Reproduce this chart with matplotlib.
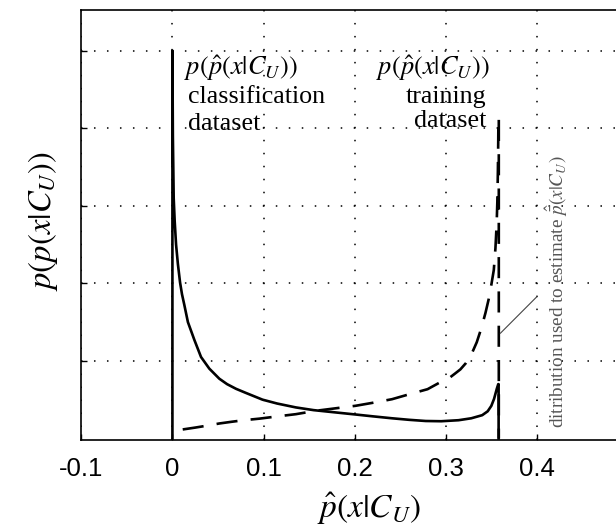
import matplotlib
matplotlib.use("Agg")
import matplotlib.pyplot as plt

plt.rcParams['mathtext.fontset'] = 'stix'

# classification dataset density (solid)
cls_x = [0.0, 0.0, 0.0005, 0.0014, 0.0025, 0.004, 0.006, 0.0084, 0.0105, 0.0131,
         0.017, 0.0241, 0.0314, 0.0405, 0.0515, 0.060, 0.0698, 0.080, 0.0989, 0.115,
         0.1355, 0.155, 0.172, 0.20, 0.22, 0.241, 0.26, 0.278, 0.295, 0.314,
         0.328, 0.340, 0.346, 0.350, 0.353, 0.356, 0.3576, 0.358, 0.358]
cls_y = [0.0, 5.0, 3.9, 3.1, 2.8, 2.5, 2.25, 2.01, 1.86, 1.72,
         1.50, 1.27, 1.05, 0.90, 0.77, 0.70, 0.64, 0.59, 0.50, 0.45,
         0.40, 0.365, 0.344, 0.31, 0.285, 0.26, 0.24, 0.225, 0.222, 0.235,
         0.26, 0.30, 0.35, 0.42, 0.51, 0.64, 0.70, 0.70, 0.0]

# training dataset density (dashed)
trn_x = [0.0113, 0.025, 0.037, 0.0515, 0.065, 0.079, 0.0953, 0.117, 0.1355, 0.157,
         0.18, 0.201, 0.22, 0.241, 0.26, 0.280, 0.294, 0.305, 0.310, 0.316,
         0.322, 0.328, 0.334, 0.339, 0.3436, 0.347, 0.350, 0.3527, 0.3545, 0.3558,
         0.3566, 0.3572, 0.3576, 0.3578, 0.3582, 0.3582]
trn_y = [0.116, 0.14, 0.163, 0.193, 0.215, 0.236, 0.255, 0.287, 0.313, 0.356,
         0.39, 0.421, 0.46, 0.506, 0.57, 0.635, 0.725, 0.79, 0.835, 0.89,
         0.97, 1.08, 1.24, 1.42, 1.62, 1.79, 1.98, 2.17, 2.45, 2.75,
         3.05, 3.45, 3.85, 4.14, 4.14, 0.0]

x_ticks = [-0.1, 0, 0.1, 0.2, 0.3, 0.4]
x_tick_labels = ['-0.1', '0', '0.1', '0.2', '0.3', '0.4']
y_ticks = [1, 2, 3, 4, 5]

fig = plt.figure(figsize=(6.16, 5.30), dpi=100)
ax = fig.add_axes([81.3 / 616, 1 - 440 / 530, (628 - 81.3) / 616, (440 - 10.3) / 530])
ax.set_xlim(-0.1, 0.5)
ax.set_ylim(-0.02, 5.52)

ax.plot(cls_x, cls_y, color='black', lw=1.9, solid_joinstyle='round')
ax.plot(trn_x, trn_y, color='black', lw=1.9, linestyle=(0, (8, 5)))

ax.set_xticks(x_ticks)
ax.set_xticklabels(x_tick_labels, family='Liberation Sans', fontsize=18.5)
ax.set_yticks(y_ticks)
ax.set_yticklabels([])
ax.tick_params(direction='in', length=4, width=1.0, pad=12)
ax.grid(True, color='black', linestyle=(0, (1, 7.5)), linewidth=1.1)
for s in ['left', 'bottom', 'top']:
    ax.spines[s].set_linewidth(1.2)
ax.spines['right'].set_visible(False)

serif = 'Liberation Serif'
ax.text(0.0131, 4.69, r'$p(\hat{p}(x|C_U))$', fontsize=19, va='baseline', ha='left')
ax.text(0.0168, 4.32, 'classification', family=serif, fontsize=18.7, va='baseline', ha='left')
ax.text(0.0168, 3.98, 'dataset', family=serif, fontsize=18.7, va='baseline', ha='left')

ax.text(0.3485, 4.69, r'$p(\hat{p}(x|C_U))$', fontsize=19, va='baseline', ha='right')
ax.text(0.345, 4.32, 'training', family=serif, fontsize=18.7, va='baseline', ha='right')
ax.text(0.345, 4.01, 'dataset', family=serif, fontsize=18.7, va='baseline', ha='right')

ax.text(0.4215, 0.137, r'ditribution used to estimate $\hat{\bar{p}}(x|C_U)$',
        family=serif, fontsize=13.8, rotation=90, ha='center', va='bottom', color='#555555')
ax.plot([0.360, 0.4001], [1.357, 1.829], color='#444444', lw=0.8)

fig.text(43 / 616, 1 - 221.5 / 530, r'$p(p(x|C_U))$', fontsize=23.5, rotation=90,
         ha='center', va='center')
fig.text(369 / 616, 1 - 509 / 530, r'$\hat{p}(x|C_U)$', fontsize=24,
         ha='center', va='center')

fig.savefig('out.png', dpi=100)
